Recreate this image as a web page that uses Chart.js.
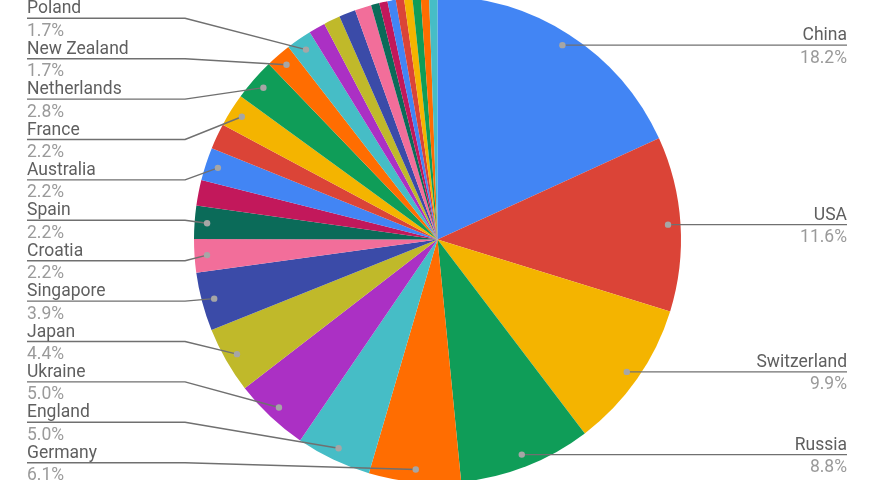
<!DOCTYPE html>
<html>
<head>
<meta charset="utf-8">
<script src="https://cdn.jsdelivr.net/npm/chart.js@4"></script>
<style>
  html, body { margin: 0; padding: 0; background: #ffffff; overflow: hidden; width: 875px; height: 480px; }
  #wrap { position: absolute; left: 0; top: -4px; width: 875px; height: 487px; }
</style>
</head>
<body>
<div id="wrap"><canvas id="chart" width="875" height="487"></canvas></div>
<script>
// Countries, in slice order clockwise from 12 o'clock. Empty names are small slices left unlabelled.
const categories = [
  "China", "USA", "Switzerland", "Russia", "Germany", "England", "Ukraine", "Japan",
  "Singapore", "Croatia", "Spain", "", "Australia", "", "France", "Netherlands",
  "New Zealand", "Poland", "", "", "", "", "", "", "", "", "", "", "", ""
];

// Share of the total, in percent.
const shares = [
  18.2, 11.6, 9.9, 8.8, 6.1, 5.0, 5.0, 4.4,
  3.9, 2.2, 2.2, 1.7, 2.2, 1.7, 2.2, 2.8,
  1.7, 1.7, 1.1, 1.1, 1.1, 1.1, 0.55, 0.55, 0.55, 0.55, 0.55, 0.55, 0.55, 0.55
];

// Slice colours repeat every twelve entries.
const palette = [
  "#4285F4", "#DB4437", "#F4B400", "#0F9D58", "#FF6D01", "#46BDC6",
  "#AB30C4", "#C0B92A", "#3B4BA8", "#F26E9A", "#0B6B59", "#C2185B"
];

const FONT = "Roboto, 'Noto Sans', sans-serif";

// Leader-line callouts: dot in the slice, line out to a name / percent pair.
const callouts = {
  id: "callouts",
  afterDatasetsDraw(chart) {
    const ctx = chart.ctx;
    const arcs = chart.getDatasetMeta(0).data;
    const total = shares.reduce((a, b) => a + b, 0);
    const items = [];
    arcs.forEach((arc, i) => {
      if (!categories[i]) return;
      const p = arc.getProps(["x", "y", "startAngle", "endAngle", "outerRadius"], true);
      const mid = (p.startAngle + p.endAngle) / 2;
      const rr = p.outerRadius - 12.5;
      items.push({
        i, cx: p.x, cy: p.y,
        px: p.x + Math.cos(mid) * rr,
        py: p.y + Math.sin(mid) * rr
      });
    });

    const left = items.filter(d => d.px < d.cx).sort((a, b) => a.py - b.py);
    const right = items.filter(d => d.px >= d.cx);

    const step = 40.4;
    left.forEach((d, k) => {
      d.ly = d.cy + (k - (left.length - 1) / 2) * step + 1;
    });
    right.forEach(d => { d.ly = d.py; });

    const pctText = i => (shares[i] / total * 100).toFixed(1) + "%";

    ctx.save();
    ctx.lineWidth = 1.4;
    ctx.strokeStyle = "#707070";
    ctx.lineJoin = "round";

    const leftX = 27, bendX = 185, rightX = 847;

    left.forEach(d => {
      ctx.beginPath();
      ctx.moveTo(leftX, d.ly);
      ctx.lineTo(bendX, d.ly);
      ctx.lineTo(d.px, d.py);
      ctx.stroke();
    });
    right.forEach(d => {
      ctx.beginPath();
      ctx.moveTo(d.px, d.ly);
      ctx.lineTo(rightX, d.ly);
      ctx.stroke();
    });

    // dots
    ctx.fillStyle = "#a6a6a6";
    items.forEach(d => {
      ctx.beginPath();
      ctx.arc(d.px, d.py, 3.2, 0, Math.PI * 2);
      ctx.fill();
    });

    ctx.textBaseline = "alphabetic";
    const drawText = (d, x, align) => {
      ctx.textAlign = align;
      ctx.font = "17.5px " + FONT;
      ctx.fillStyle = "#5f5f5f";
      ctx.fillText(categories[d.i], x, d.ly - 5);
      ctx.fillStyle = "#9a9a9a";
      ctx.fillText(pctText(d.i), x, d.ly + 17.5);
    };
    left.forEach(d => drawText(d, leftX, "left"));
    right.forEach(d => drawText(d, rightX, "right"));
    ctx.restore();
  }
};

new Chart(document.getElementById("chart"), {
  type: "pie",
  data: {
    labels: categories,
    datasets: [{
      data: shares,
      backgroundColor: shares.map((_, i) => palette[i % palette.length]),
      borderWidth: 0
    }]
  },
  options: {
    responsive: false,
    animation: false,
    layout: { padding: 0 },
    plugins: {
      legend: { display: false },
      tooltip: { enabled: false }
    }
  },
  plugins: [callouts]
});
</script>
</body>
</html>
